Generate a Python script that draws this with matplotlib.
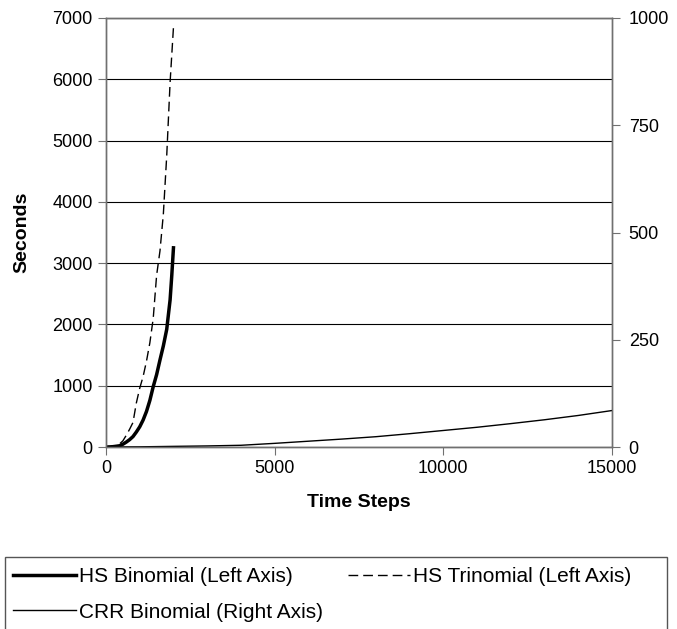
import numpy as np
import matplotlib
matplotlib.use("Agg")
import matplotlib.pyplot as plt
from matplotlib.patches import Rectangle

plt.rcParams['font.family'] = ['Liberation Sans', 'DejaVu Sans']
plt.rcParams['font.size'] = 13

# HS Binomial (left axis, seconds)
hs_bin_steps = [0, 100, 200, 300, 400, 500, 600, 700, 800, 900, 1000, 1100, 1200,
                1300, 1400, 1500, 1600, 1700, 1800, 1900, 1950, 2000]
hs_bin_secs = [0, 2, 5, 12, 20, 45, 80, 120, 170, 245, 330, 440, 580,
               760, 985, 1180, 1420, 1650, 1920, 2400, 2800, 3250]

# HS Trinomial (left axis, seconds)
hs_tri_steps = [0, 100, 200, 300, 400, 500, 600, 700, 800, 900, 1000, 1100, 1200,
                1300, 1400, 1500, 1600, 1700, 1800, 1900, 2000]
hs_tri_secs = [0, 3, 10, 25, 50, 100, 190, 290, 400, 720, 960, 1150, 1400,
               1700, 2100, 2800, 3200, 3800, 4750, 5950, 6850]

# CRR Binomial (right axis, seconds)
crr_steps = [0, 1000, 2000, 3000, 4000, 5000, 6000, 7000, 8000, 9000, 10000,
             11000, 12000, 13000, 14000, 15000]
crr_secs = [0, 0.4, 1.5, 2.5, 4, 8.5, 13.5, 18.5, 24, 31, 38.5,
            46, 54.5, 63.5, 73.5, 85]

W, H = 677, 629
fig = plt.figure(figsize=(W / 100, H / 100), dpi=100)
ax = fig.add_axes([106 / W, 1 - 447 / H, (612 - 106) / W, (447 - 18) / H])
ax2 = ax.twinx()

l1, = ax.plot(hs_bin_steps, hs_bin_secs, color='black', lw=2.5,
              label='HS Binomial (Left Axis)')
l2, = ax.plot(hs_tri_steps, hs_tri_secs, color='black', lw=1.0, dashes=(7, 3.6),
              label='HS Trinomial (Left Axis)')
l3, = ax2.plot(crr_steps, crr_secs, color='black', lw=1.0,
               label='CRR Binomial (Right Axis)')

ax.set_xlim(0, 15000)
ax.set_ylim(0, 7000)
ax.set_xticks([0, 5000, 10000, 15000])
ax.set_yticks(range(0, 7001, 1000))
ax2.set_ylim(0, 1000)
ax2.set_yticks([0, 250, 500, 750, 1000])

ax.yaxis.grid(True, color='black', lw=0.8)
ax.set_axisbelow(True)
for a in (ax, ax2):
    for s in a.spines.values():
        s.set_color('#707070')
        s.set_linewidth(1.0)
    a.tick_params(direction='out', length=6, color='#707070', labelsize=13)
ax2.tick_params(axis='y', pad=6)

ax.set_xlabel('Time Steps', fontweight='bold', fontsize=14, labelpad=12)
ax.set_ylabel('Seconds', fontweight='bold', fontsize=14, labelpad=16)

# legend box runs off the bottom of the figure
fig.patches.append(Rectangle((5.5 / W, -0.05), (667 - 5.5) / W, (H - 557.3) / H + 0.05,
                             transform=fig.transFigure, fill=False,
                             edgecolor='#555555', lw=1.0))
leg = fig.legend([l1, l3, l2], [l1.get_label(), l3.get_label(), l2.get_label()],
                 ncol=2, loc='upper left', bbox_to_anchor=(13 / W, 1 - 567 / H),
                 frameon=False, handlelength=3.0, handletextpad=0.15,
                 borderpad=0, borderaxespad=0, labelspacing=0.8,
                 columnspacing=1.2, fontsize=15)

fig.savefig('out.png', dpi=100)
